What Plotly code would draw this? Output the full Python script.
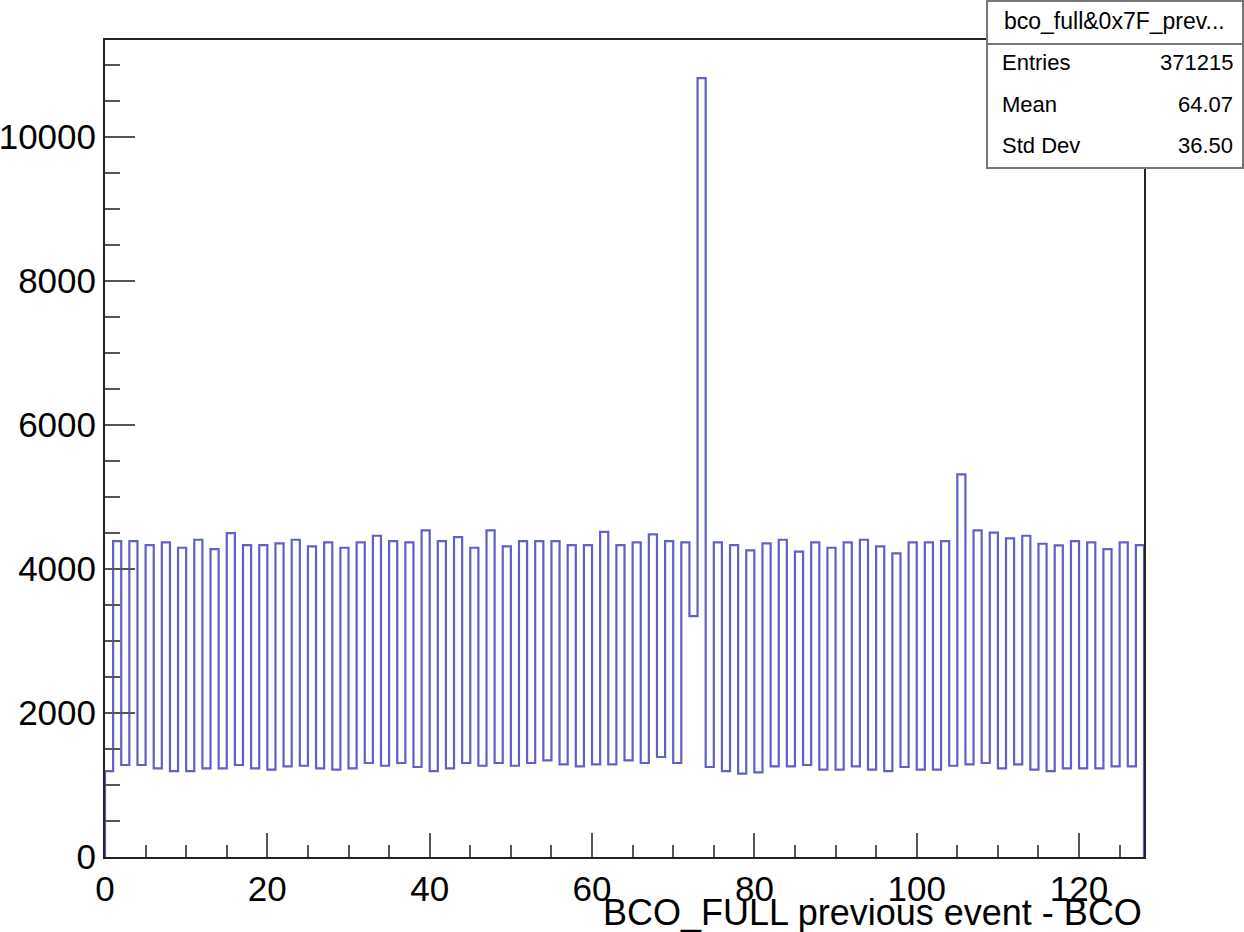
import plotly.graph_objects as go

# Histogram definition: 128 bins from 0 to 128
n_bins = 128
x_low, x_high = 0, 128

counts = [
    1194, 4389, 1278, 4389, 1278, 4333, 1231, 4370, 1194, 4296, 1194, 4407, 1231, 4278, 1231, 4500,
    1278, 4333, 1231, 4333, 1213, 4357, 1259, 4407, 1268, 4315, 1231, 4370, 1213, 4296, 1231, 4370,
    1306, 4463, 1268, 4389, 1306, 4370, 1250, 4537, 1194, 4389, 1231, 4444, 1306, 4296, 1268, 4537,
    1306, 4315, 1268, 4389, 1306, 4389, 1343, 4389, 1287, 4333, 1259, 4333, 1287, 4518, 1287, 4333,
    1343, 4370, 1306, 4481, 1389, 4389, 1306, 4370, 3347, 10820, 1250, 4370, 1194, 4333, 1157, 4259,
    1176, 4357, 1259, 4407, 1259, 4241, 1278, 4370, 1213, 4296, 1213, 4370, 1259, 4407, 1213, 4315,
    1194, 4218, 1250, 4370, 1213, 4370, 1213, 4389, 1268, 5315, 1287, 4537, 1306, 4505, 1231, 4426,
    1287, 4463, 1213, 4352, 1194, 4329, 1231, 4389, 1231, 4370, 1231, 4278, 1259, 4370, 1259, 4333,
]

stats_title = "bco_full&0x7F_prev..."
stats_labels = ["Entries", "Mean", "Std Dev"]
stats_values = ["371215", "64.07", "36.50"]
x_title = "BCO_FULL previous event - BCO"

bw = (x_high - x_low) / n_bins
edges = [x_low + i * bw for i in range(n_bins + 1)]
xs = [edges[0]] + edges
ys = [0] + counts + [0]

W, H = 1244, 932
L, R, T, B = 105, 100, 40, 75
pw, ph = W - L - R, H - T - B

def px(x):
    return (x - L) / pw

def py(y):
    return (H - B - y) / ph

FONT = "Liberation Sans, Arial, Helvetica, sans-serif"

fig = go.Figure()
fig.add_trace(go.Scatter(
    x=xs, y=ys, mode="lines", line=dict(shape="hv", color="#6060c6", width=2.2),
    hoverinfo="skip", showlegend=False,
))

fig.update_layout(
    width=W, height=H,
    margin=dict(l=L, r=R, t=T, b=B, pad=0, autoexpand=False),
    paper_bgcolor="white", plot_bgcolor="white",
    font=dict(family=FONT, color="black", size=35),
    xaxis=dict(
        range=[x_low, x_high], showgrid=False, zeroline=False, automargin=False,
        showline=True, linecolor="#222", linewidth=2, mirror=True,
        ticks="inside", ticklen=24, tickwidth=2, tickcolor="#555",
        tick0=0, dtick=20, tickfont=dict(size=35, family=FONT),
        minor=dict(ticks="inside", ticklen=12, dtick=5, tickwidth=2, tickcolor="#555", showgrid=False),
    ),
    yaxis=dict(
        range=[0, 11350], showgrid=False, zeroline=False, automargin=False,
        showline=True, linecolor="#222", linewidth=2, mirror=True,
        ticks="inside", ticklen=30, tickwidth=2, tickcolor="#555",
        tick0=0, dtick=2000, tickformat="d", exponentformat="none",
        tickfont=dict(size=35, family=FONT),
        minor=dict(ticks="inside", ticklen=15, dtick=500, tickwidth=2, tickcolor="#555", showgrid=False),
    ),
)

# X axis title (ROOT style, right-aligned below axis)
fig.add_annotation(
    xref="paper", yref="paper", x=1.0, y=py(912), xanchor="right", yanchor="middle",
    text=x_title, showarrow=False, font=dict(size=36, family=FONT, color="black"),
)

# Stats box
fig.add_shape(
    type="rect", xref="paper", yref="paper",
    x0=px(987), x1=px(1243), y0=py(168), y1=py(1),
    line=dict(color="#777", width=2), fillcolor="white", layer="above",
)
fig.add_shape(
    type="line", xref="paper", yref="paper",
    x0=px(987), x1=px(1243), y0=py(44), y1=py(44),
    line=dict(color="#777", width=2), layer="above",
)
fig.add_annotation(
    xref="paper", yref="paper", x=px(1114), y=py(21), xanchor="center", yanchor="middle",
    text=stats_title, showarrow=False, font=dict(size=23, family=FONT, color="black"),
)
row_y = [63, 104, 145]
for lab, val, yy in zip(stats_labels, stats_values, row_y):
    fig.add_annotation(
        xref="paper", yref="paper", x=px(1000), y=py(yy), xanchor="left", yanchor="middle",
        text=lab, showarrow=False, font=dict(size=22, family=FONT, color="black"),
    )
    fig.add_annotation(
        xref="paper", yref="paper", x=px(1235), y=py(yy), xanchor="right", yanchor="middle",
        text=val, showarrow=False, font=dict(size=22, family=FONT, color="black"),
    )

fig.write_html("out.html")
